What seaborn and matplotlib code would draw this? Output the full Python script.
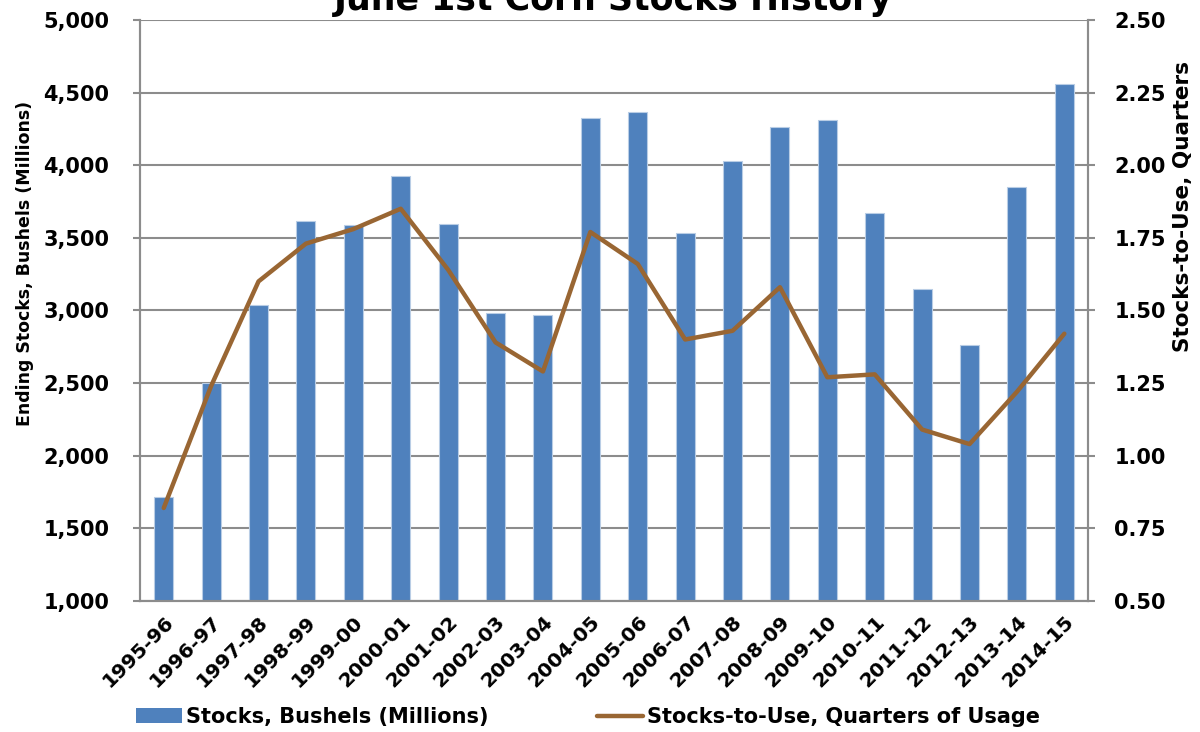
import matplotlib
matplotlib.use("Agg")
import matplotlib.pyplot as plt
import seaborn as sns
import pandas as pd
from matplotlib.patches import Patch
from matplotlib.lines import Line2D
from matplotlib.ticker import FuncFormatter, MultipleLocator, FixedLocator

marketing_years = [
    "1995-96", "1996-97", "1997-98", "1998-99", "1999-00", "2000-01", "2001-02",
    "2002-03", "2003-04", "2004-05", "2005-06", "2006-07", "2007-08", "2008-09",
    "2009-10", "2010-11", "2011-12", "2012-13", "2013-14", "2014-15",
]
june_stocks = [
    1714, 2500, 3040, 3617, 3585, 3925, 3596, 2984, 2968, 4322,
    4363, 3532, 4030, 4262, 4310, 3670, 3147, 2763, 3851, 4556,
]
stocks_to_use = [
    0.82, 1.24, 1.60, 1.73, 1.78, 1.85, 1.64, 1.39, 1.29, 1.77,
    1.66, 1.40, 1.43, 1.58, 1.27, 1.28, 1.09, 1.04, 1.22, 1.42,
]

bar_label = "Stocks, Bushels (Millions)"
line_label = "Stocks-to-Use, Quarters of Usage"

df = pd.DataFrame({"year": marketing_years, "stocks": june_stocks, "ratio": stocks_to_use})

sns.set_style("white")
plt.rcParams["font.family"] = ["DejaVu Sans"]
plt.rcParams["font.weight"] = "bold"
plt.rcParams["text.color"] = "black"
plt.rcParams["xtick.labelcolor"] = "black"
plt.rcParams["ytick.labelcolor"] = "black"

bar_color = "#4F81BD"
line_color = "#996633"
grid_color = "#8C8C8C"

fig = plt.figure(figsize=(12, 7.32), dpi=100)
ax = fig.add_axes([0.1167, 0.179, 0.79, 0.7938])

sns.barplot(data=df, x="year", y="stocks", color=bar_color, width=0.4,
            saturation=1, edgecolor="#B9CDE5", linewidth=0.8, ax=ax, zorder=2)
ax.set_ylim(1000, 5000)
ax.set_xlim(-0.5, len(marketing_years) - 0.5)
ax.yaxis.set_major_locator(MultipleLocator(500))
ax.yaxis.set_major_formatter(FuncFormatter(lambda v, p: f"{v:,.0f}"))
ax.grid(axis="y", color=grid_color, linewidth=1.5, zorder=0)
ax.set_axisbelow(True)
ax.set_xlabel("")
ax.set_ylabel("")

ax2 = ax.twinx()
sns.lineplot(data=df, x="year", y="ratio", color=line_color, linewidth=3.2,
             sort=False, ax=ax2)
ax2.set_ylim(0.5, 2.5)
ax2.yaxis.set_major_locator(MultipleLocator(0.25))
ax2.yaxis.set_major_formatter(FuncFormatter(lambda v, p: f"{v:.2f}"))
ax2.set_xlim(-0.5, len(marketing_years) - 0.5)
ax2.set_ylabel("")
ax2.set_xlabel("")

for a in (ax, ax2):
    a.spines["top"].set_visible(False)
    for side in ("left", "right", "bottom"):
        a.spines[side].set_color(grid_color)
        a.spines[side].set_linewidth(1.5)

ax.tick_params(axis="y", direction="out", length=5, color=grid_color, width=1.5,
               labelsize=15, pad=17, left=True)
ax2.tick_params(axis="y", direction="out", length=5, color=grid_color, width=1.5,
                labelsize=15, pad=14, right=True)

# category ticks between bars, labels at centres
ax.xaxis.set_minor_locator(FixedLocator([i - 0.5 for i in range(len(marketing_years) + 1)]))
ax.tick_params(axis="x", which="minor", direction="out", length=6, color=grid_color, width=1.5)
ax.tick_params(axis="x", which="major", length=0, labelsize=14.5, pad=8)
ax.set_xticks(range(len(marketing_years)))
ax.set_xticklabels(marketing_years, rotation=45, ha="right", rotation_mode="anchor",
                   fontweight="bold")
ax2.tick_params(axis="x", which="both", length=0, labelbottom=False)

for lbl in ax.get_yticklabels() + ax2.get_yticklabels():
    lbl.set_fontweight("bold")

fig.text(0.511, 0.986, "June 1st Corn Stocks History", ha="center", va="baseline",
         fontsize=25, fontweight="bold")
fig.text(0.021, 1 - 263 / 732, "Ending Stocks, Bushels (Millions)", rotation=90,
         ha="center", va="center", fontsize=12.5, fontweight="bold")
fig.text(0.986, 1 - 206 / 732, "Stocks-to-Use, Quarters", rotation=90,
         ha="center", va="center", fontsize=15.5, fontweight="bold")

handles = [
    Patch(facecolor=bar_color, edgecolor="none"),
    Line2D([0], [0], color=line_color, linewidth=3.2),
]
fig.legend(handles, [bar_label, line_label], loc="center", ncol=2,
           bbox_to_anchor=(0.49, 1 - 717 / 732), frameon=False,
           prop={"size": 15, "weight": "bold"}, handlelength=2.2,
           handleheight=0.75, handletextpad=0.2, columnspacing=5.2)

fig.savefig("out.png", dpi=100)
